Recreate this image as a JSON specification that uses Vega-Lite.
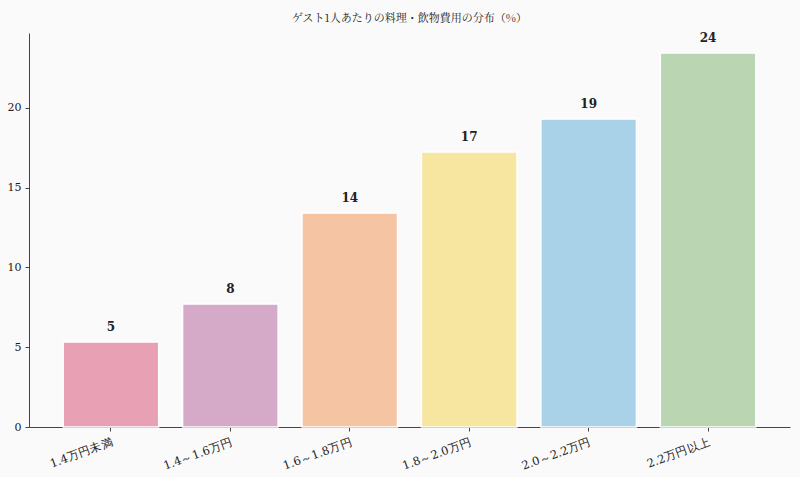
{
  "$schema": "https://vega.github.io/schema/vega-lite/v6.json",
  "autosize": {"type": "none"},
  "padding": {"left": 29, "top": 33, "right": 10, "bottom": 50},
  "width": 761,
  "height": 394,
  "background": "#fafafa",
  "config": {
    "view": {"stroke": null},
    "font": "DejaVu Serif"
  },
  "title": {
    "text": "ゲスト1人あたりの料理・飲物費用の分布（%）",
    "fontSize": 11,
    "fontWeight": "normal",
    "font": "Noto Serif CJK JP, DejaVu Serif",
    "color": "#222222",
    "offset": 8,
    "anchor": "middle"
  },
  "data": {
    "values": [
      {"range": "1.4万円未満", "pct": 5.33, "label": "5", "color": "#e8a0b4"},
      {"range": "1.4～1.6万円", "pct": 7.71, "label": "8", "color": "#d5a9c8"},
      {"range": "1.6～1.8万円", "pct": 13.42, "label": "14", "color": "#f5c4a2"},
      {"range": "1.8～2.0万円", "pct": 17.24, "label": "17", "color": "#f7e6a0"},
      {"range": "2.0～2.2万円", "pct": 19.31, "label": "19", "color": "#a9d1e7"},
      {"range": "2.2万円以上", "pct": 23.45, "label": "24", "color": "#b9d5b1"}
    ]
  },
  "encoding": {
    "x": {
      "field": "range",
      "type": "nominal",
      "sort": null,
      "scale": {"paddingInner": 0.2, "paddingOuter": 0.286},
      "axis": {
        "title": null,
        "labelAngle": -20,
        "labelAlign": "right",
        "labelBaseline": "top",
        "labelFontSize": 11.5,
        "labelColor": "#222222",
        "domainColor": "#444444",
        "tickColor": "#444444",
        "tickSize": 4,
        "labelPadding": 5
      }
    },
    "y": {
      "field": "pct",
      "type": "quantitative",
      "scale": {"domain": [0, 24.7], "nice": false},
      "axis": {
        "title": null,
        "values": [0, 5, 10, 15, 20],
        "grid": false,
        "labelFontSize": 11,
        "labelColor": "#222222",
        "domainColor": "#444444",
        "tickColor": "#444444",
        "tickSize": 4,
        "labelPadding": 4
      }
    }
  },
  "layer": [
    {
      "mark": {"type": "bar", "stroke": "white", "strokeWidth": 1.5},
      "encoding": {
        "color": {"field": "color", "type": "nominal", "scale": null}
      }
    },
    {
      "mark": {"type": "text", "dy": -8, "fontSize": 12, "fontWeight": "bold", "color": "#222222", "baseline": "bottom"},
      "encoding": {
        "text": {"field": "label"}
      }
    }
  ]
}
